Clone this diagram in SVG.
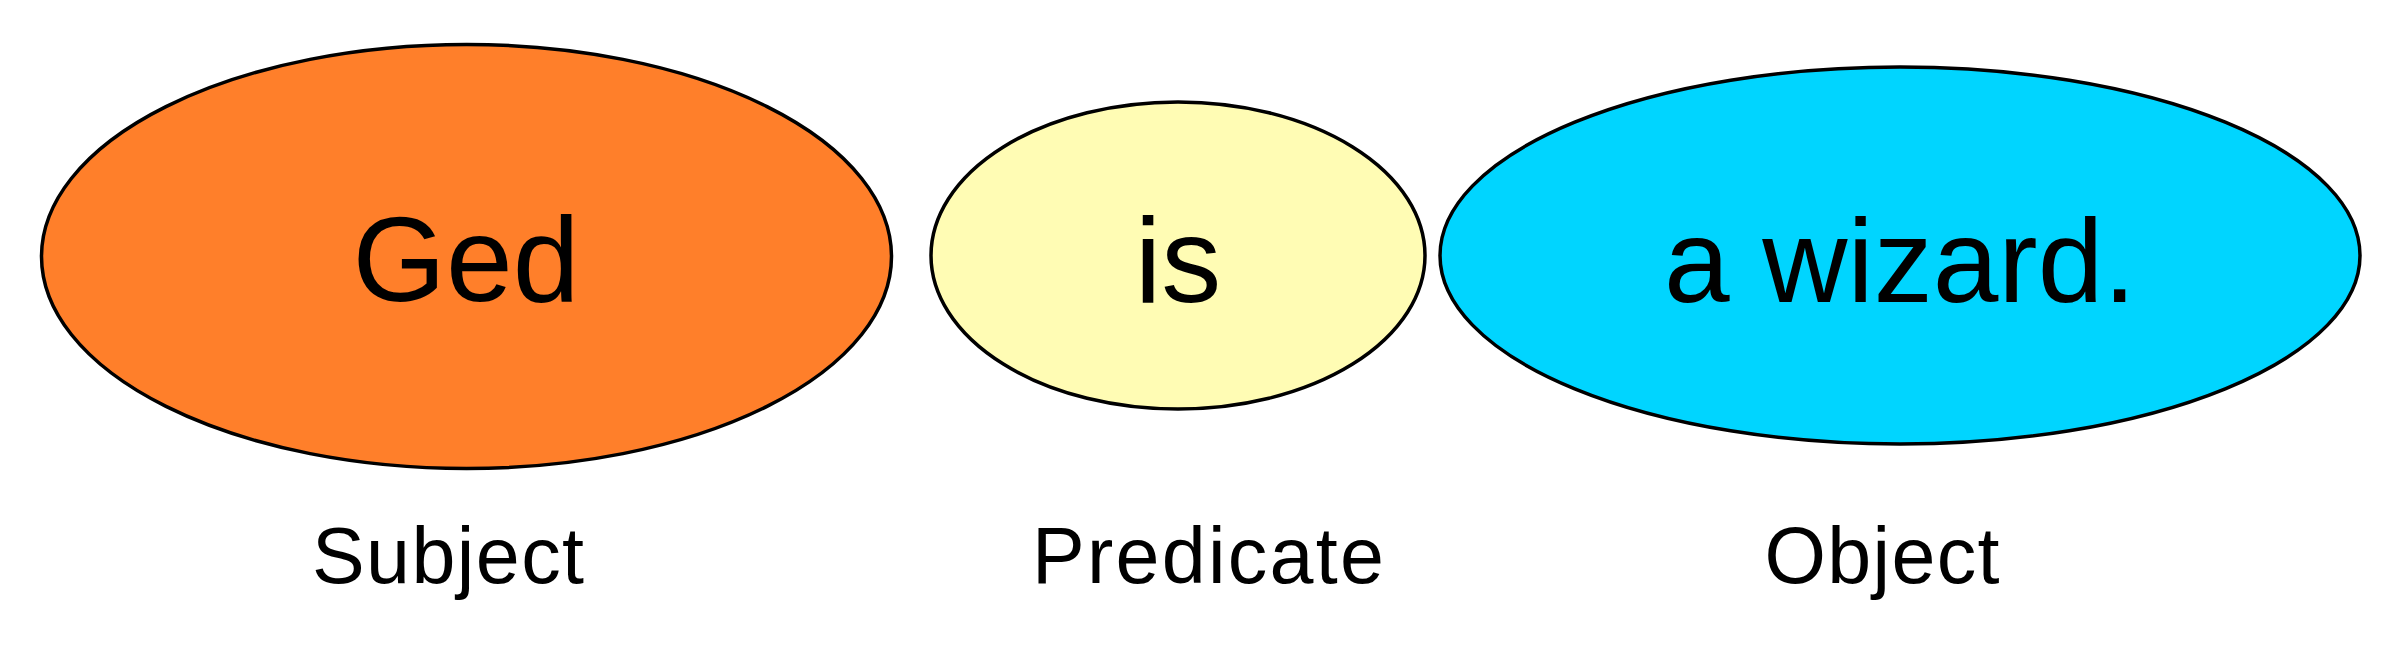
<svg xmlns="http://www.w3.org/2000/svg" width="2404" height="658" viewBox="0 0 2404 658">
<style>
.node{stroke:#000;stroke-width:3.5}
.big{font-family:"Liberation Sans",Arial,sans-serif;fill:#000;text-anchor:middle}
.lbl{font-family:"Liberation Sans",Arial,sans-serif;font-size:79px;fill:#000}
</style>
<rect width="2404" height="658" fill="#fff"/>
<g id="connectors"></g>
<g id="subject">
<ellipse class="node" cx="466.5" cy="256.5" rx="425" ry="212" fill="#FF7F2A"/>
<text class="big" x="466" y="300.5" font-size="120">Ged</text>
<text class="lbl" x="312" y="582.5" textLength="272">Subject</text>
</g>
<g id="predicate">
<ellipse class="node" cx="1178" cy="255.5" rx="247" ry="153.5" fill="#FFFCB4"/>
<text class="big" x="1178" y="301.5" font-size="120">is</text>
<text class="lbl" x="1032" y="582.5" textLength="352">Predicate</text>
</g>
<g id="object">
<ellipse class="node" cx="1900" cy="255.5" rx="460" ry="188.5" fill="#00D5FF"/>
<text class="big" x="1900" y="301.5" font-size="118">a wizard.</text>
<text class="lbl" x="1764.5" y="582.5" textLength="235">Object</text>
</g>
</svg>
